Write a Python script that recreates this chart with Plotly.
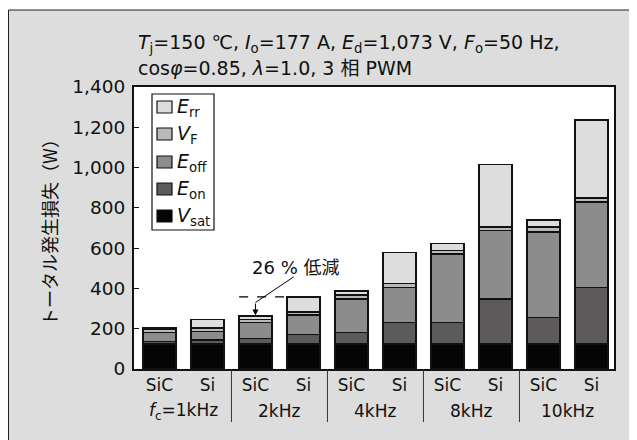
import plotly.graph_objects as go

# ---- data ----
devices = ["SiC", "Si", "SiC", "Si", "SiC", "Si", "SiC", "Si", "SiC", "Si"]
groups = ["<i>f</i><sub>c</sub>=1kHz", "2kHz", "4kHz", "8kHz", "10kHz"]
v_sat = [125, 125, 125, 125, 125, 125, 125, 125, 125, 125]
e_on = [11, 19, 27, 47, 55, 105, 105, 222, 130, 280]
e_off = [44, 41, 78, 95, 167, 175, 341, 340, 424, 425]
v_f = [18, 18, 15, 16, 21, 20, 17, 17, 25, 18]
e_rr = [9, 44, 17, 75, 20, 153, 34, 311, 36, 387]
y_ticks = [0, 200, 400, 600, 800, 1000, 1200, 1400]
ref_level = 358   # Si 2kHz total, dashed reference
sic2k_total = 262

series = [
    ("<i>V</i><sub>sat</sub>", v_sat, "#050505"),
    ("<i>E</i><sub>on</sub>", e_on, "#5c5a5a"),
    ("<i>E</i><sub>off</sub>", e_off, "#8c8c8c"),
    ("<i>V</i><sub>F</sub>", v_f, "#b9b9b9"),
    ("<i>E</i><sub>rr</sub>", e_rr, "#dcdddc"),
]

FONT = "DejaVu Sans, Noto Sans CJK JP, sans-serif"
x = list(range(len(devices)))

fig = go.Figure()
for i, (name, vals, col) in enumerate(series):
    fig.add_trace(go.Bar(
        x=x, y=vals, name=name, showlegend=False,
        marker=dict(color=col, line=dict(color="#111111", width=1.5)),
        width=0.69,
    ))

# page offset (body margin) is 8px; figure sized to fit the window
OFF = 8
W, H = 637 - OFF, 440 - OFF
PL, PR, PT, PB = 134, 614, 87, 369          # plot area in page pixels
L, R, T, B = PL - OFF, W - (PR - OFF), PT - OFF, H - (PB - OFF)
pw, ph = PR - PL, PB - PT


def px_x(p):
    return (p - PL) / pw


def px_y(p):
    return (PB - p) / ph


shapes = [
    # outer gray frame
    dict(type="rect", xref="paper", yref="paper",
         x0=px_x(8.5), x1=px_x(700), y0=px_y(500), y1=px_y(10),
         fillcolor="#dcdddc", line=dict(color="#222222", width=1), layer="below"),
    # white plot area
    dict(type="rect", xref="paper", yref="paper", x0=0, x1=1, y0=0, y1=1,
         fillcolor="white", line=dict(width=0), layer="below"),
    # dashed reference
    dict(type="line", xref="x", yref="y", x0=1.66, x1=2.655, y0=ref_level, y1=ref_level,
         line=dict(color="black", width=1.2, dash="dash")),
    # diagonal leader
    dict(type="line", xref="x", yref="y", x0=2.8, y0=458, x1=2.0, y1=330,
         line=dict(color="black", width=1)),
    # legend box
    dict(type="rect", xref="paper", yref="paper",
         x0=px_x(152), x1=px_x(214), y0=px_y(230), y1=px_y(94),
         fillcolor="white", line=dict(color="#111111", width=1.2)),
]
for g in range(1, 5):
    xs = 2 * g - 0.5
    shapes.append(dict(type="line", xref="x", yref="paper", x0=xs, x1=xs,
                       y0=0, y1=px_y(422), line=dict(color="#333333", width=1)))

annotations = [
    dict(xref="paper", yref="paper", x=px_x(136), y=px_y(44), xanchor="left", yanchor="middle",
         text="<i>T</i><sub>j</sub>=150 ℃, <i>I</i><sub>o</sub>=177 A, <i>E</i><sub>d</sub>=1,073 V, <i>F</i><sub>o</sub>=50 Hz,",
         showarrow=False, font=dict(size=19, color="#111111")),
    dict(xref="paper", yref="paper", x=px_x(136), y=px_y(68), xanchor="left", yanchor="middle",
         text="cos<i>φ</i>=0.85, <i>λ</i>=1.0, 3 相 PWM",
         showarrow=False, font=dict(size=19, color="#111111")),
    dict(xref="x", yref="y", x=2.84, y=504, text="26 % 低減", showarrow=False,
         font=dict(size=18, color="#111111")),
    dict(xref="x", yref="y", x=2.0, y=sic2k_total + 3, ax=2.0, ay=332, axref="x", ayref="y",
         text="", showarrow=True, arrowhead=2, arrowsize=1.2, arrowwidth=1, arrowcolor="black"),
]
for g, lab in enumerate(groups):
    annotations.append(dict(xref="x", yref="paper", x=2 * g + 0.5, y=px_y(411),
                            text=lab, showarrow=False, yanchor="middle",
                            font=dict(size=17, color="#111111")))

# custom legend (top to bottom: Err, VF, Eoff, Eon, Vsat)
leg_y = [107, 134, 162, 189, 216]
for (name, vals, col), yy in zip(reversed(series), leg_y):
    shapes.append(dict(type="rect", xref="paper", yref="paper",
                       x0=px_x(157), x1=px_x(172), y0=px_y(yy + 6), y1=px_y(yy - 6),
                       fillcolor=col, line=dict(color="#111111", width=1.2)))
    annotations.append(dict(xref="paper", yref="paper", x=px_x(175), y=px_y(yy),
                            xanchor="left", yanchor="middle", text=name, showarrow=False,
                            font=dict(size=19, color="#111111")))

fig.update_layout(
    width=W, height=H,
    margin=dict(l=L, r=R, t=T, b=B, pad=0),
    barmode="stack",
    paper_bgcolor="white", plot_bgcolor="white",
    font=dict(family=FONT, size=17, color="#111111"),
    shapes=shapes, annotations=annotations,
    showlegend=False,
    xaxis=dict(range=[-0.53, 9.47], tickvals=x, ticktext=devices, ticks="",
               showline=True, linecolor="#111111", linewidth=2, mirror=True,
               showgrid=False, zeroline=False, tickfont=dict(size=17)),
    yaxis=dict(range=[0, 1400], tickvals=y_ticks, tickformat=",", ticks="inside", ticklen=5,
               tickcolor="#111111", showline=True, linecolor="#111111", linewidth=2, mirror=True,
               showgrid=False, zeroline=False, tickfont=dict(size=18.5), ticklabelstandoff=3,
               title=dict(text="トータル発生損失（W）", standoff=10,
                          font=dict(size=18, family="Noto Sans CJK JP, DejaVu Sans"))),
)

fig.write_html("out.html")
